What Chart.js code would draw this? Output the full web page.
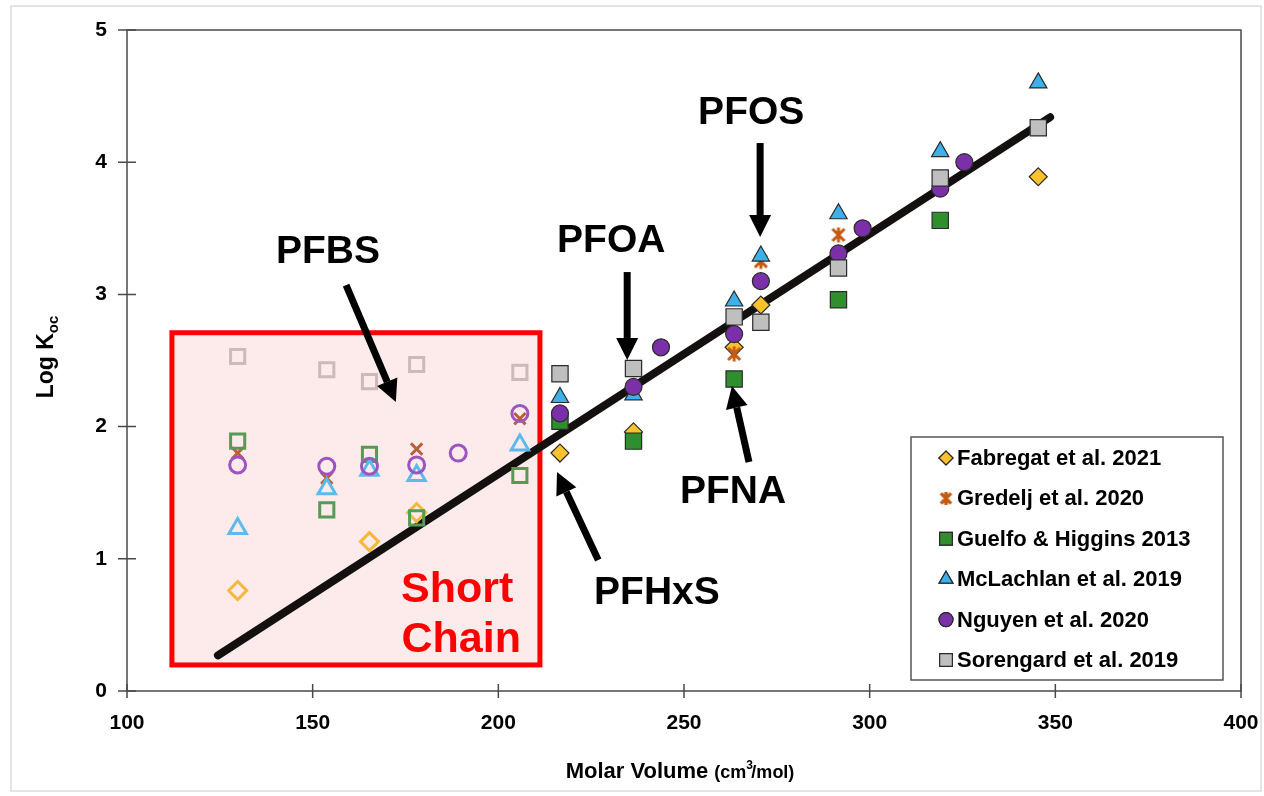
<!DOCTYPE html>
<html><head><meta charset="utf-8">
<script src="https://cdn.jsdelivr.net/npm/chart.js@4.4.1/dist/chart.umd.min.js"></script>
<style>html,body{margin:0;padding:0;background:#fff;overflow:hidden}canvas{display:block}</style>
</head><body>
<canvas id="c" width="1264" height="796"></canvas>
<script>
// ---- data (Molar volume cm3/mol, log Koc) ----
const fabregatX = [129.8, 165.3, 178.0, 216.6, 236.4, 263.5, 270.7, 345.4];
const fabregatY = [0.76, 1.13, 1.35, 1.80, 1.96, 2.60, 2.92, 3.89];
const gredeljX = [129.8, 153.8, 178.0, 205.8, 263.5, 270.7, 291.6];
const gredeljY = [1.80, 1.61, 1.83, 2.06, 2.55, 3.25, 3.45];
const guelfoX = [129.8, 153.8, 165.3, 178.0, 205.8, 216.6, 236.4, 263.5, 291.6, 319.0];
const guelfoY = [1.89, 1.37, 1.79, 1.31, 1.63, 2.04, 1.89, 2.36, 2.96, 3.56];
const mclachlanX = [129.8, 153.8, 165.3, 178.0, 205.8, 216.6, 236.4, 263.5, 270.7, 291.6, 319.0, 345.4];
const mclachlanY = [1.23, 1.53, 1.67, 1.63, 1.86, 2.22, 2.24, 2.95, 3.29, 3.61, 4.08, 4.60];
const nguyenX = [129.8, 153.8, 165.3, 178.0, 189.2, 205.8, 216.6, 236.4, 243.8, 263.5, 270.7, 291.6, 298.1, 319.0, 325.5];
const nguyenY = [1.71, 1.70, 1.70, 1.71, 1.80, 2.10, 2.10, 2.30, 2.60, 2.70, 3.10, 3.31, 3.50, 3.80, 4.00];
const sorengardX = [129.8, 153.8, 165.3, 178.0, 205.8, 216.6, 236.4, 263.5, 270.7, 291.6, 319.0, 345.4];
const sorengardY = [2.53, 2.43, 2.34, 2.47, 2.41, 2.40, 2.44, 2.83, 2.79, 3.20, 3.88, 4.26];
const trendX = [124.5, 348.6];
const trendY = [0.27, 4.34];
const xTicks = [100, 150, 200, 250, 300, 350, 400];
const yTicks = [0, 1, 2, 3, 4, 5];
const shortChainLimit = 212;
const shortBoxX = [112.1, 211.2];
const shortBoxY = [0.197, 2.71];
const seriesNames = ['Fabregat et al. 2021', 'Gredelj et al. 2020', 'Guelfo & Higgins 2013', 'McLachlan et al. 2019', 'Nguyen et al. 2020', 'Sorengard et al. 2019'];

const FONT = "'Liberation Sans', Arial, Helvetica, sans-serif";

function pts(xs, ys){ return xs.map((x,i)=>({x:x, y:ys[i]})); }

function asterisk(size, color, lw){
  const c = document.createElement('canvas');
  c.width = size; c.height = size;
  const g = c.getContext('2d');
  g.strokeStyle = color; g.lineWidth = lw; g.lineCap = 'butt';
  const m = size*0.2, M = size - m;
  g.beginPath();
  g.moveTo(m,m); g.lineTo(M,M);
  g.moveTo(M,m); g.lineTo(m,M);
  g.moveTo(size/2, size*0.12); g.lineTo(size/2, size*0.88);
  g.stroke();
  return c;
}
const astBig = asterisk(20, '#C55A11', 3);
const astLegend = asterisk(17, '#C55A11', 3.4);

const styles = [
  {fill:'#FFC12E', open:'#F5B83A', style:'rectRot', r:9, rOpen:9},
  {fill:'#C55A11', open:'#B8603A', style:'ast', r:10, rOpen:8},
  {fill:'#2F8F2F', open:'#569A56', style:'rect', r:11.5, rOpen:10},
  {fill:'#3DB0EA', open:'#5DBAEA', style:'triangle', r:10, rOpen:10},
  {fill:'#7B2FA8', open:'#9C55C0', style:'circle', r:8.5, rOpen:8},
  {fill:'#BFBFBF', open:'#CBBABA', style:'rect', r:11.5, rOpen:10}
];
const seriesData = [
  pts(fabregatX, fabregatY), pts(gredeljX, gredeljY), pts(guelfoX, guelfoY),
  pts(mclachlanX, mclachlanY), pts(nguyenX, nguyenY), pts(sorengardX, sorengardY)
];

const isShort = ctx => ctx.raw && ctx.raw.x < shortChainLimit;

const datasets = seriesData.map((d, i) => {
  const s = styles[i];
  return {
    label: seriesNames[i],
    data: d,
    order: 6 - i,
    showLine: false,
    pointStyle: ctx => s.style === 'ast' ? (isShort(ctx) ? 'crossRot' : astBig) : s.style,
    pointRadius: ctx => isShort(ctx) ? s.rOpen : s.r,
    pointBackgroundColor: ctx => isShort(ctx) ? 'rgba(0,0,0,0)' : s.fill,
    pointBorderColor: ctx => isShort(ctx) ? s.open : (s.style === 'ast' ? s.fill : '#2a2a2a'),
    pointBorderWidth: ctx => isShort(ctx) ? 3 : 1.2,
    backgroundColor: s.fill,
    borderColor: '#2a2a2a'
  };
});
datasets.push({
  label: 'trend',
  type: 'line',
  data: pts(trendX, trendY),
  order: 100,
  borderColor: '#141010',
  borderWidth: 8,
  borderCapStyle: 'round',
  pointRadius: 0,
  fill: false
});

function arrow(ctx, x1, y1, x2, y2){
  const ang = Math.atan2(y2-y1, x2-x1);
  const hl = 22, hw = 11;
  const bx = x2 - Math.cos(ang)*hl, by = y2 - Math.sin(ang)*hl;
  ctx.save();
  ctx.strokeStyle = '#000'; ctx.fillStyle = '#000'; ctx.lineWidth = 7;
  ctx.beginPath(); ctx.moveTo(x1,y1); ctx.lineTo(bx,by); ctx.stroke();
  ctx.beginPath();
  ctx.moveTo(x2,y2);
  ctx.lineTo(bx + Math.sin(ang)*hw, by - Math.cos(ang)*hw);
  ctx.lineTo(bx - Math.sin(ang)*hw, by + Math.cos(ang)*hw);
  ctx.closePath(); ctx.fill();
  ctx.restore();
}

const labels = [
  {t:'PFBS', x:154.1, y:3.32},
  {t:'PFOA', x:230.4, y:3.40},
  {t:'PFOS', x:268.1, y:4.37},
  {t:'PFNA', x:263.2, y:1.505},
  {t:'PFHxS', x:242.7, y:0.741}
];
const arrows = [
  [159.0, 3.071, 172.4, 2.186],
  [234.7, 3.169, 234.7, 2.504],
  [270.5, 4.145, 270.5, 3.434],
  [226.9, 0.991, 215.8, 1.657],
  [267.5, 1.732, 262.9, 2.307]
];

const decor = {
  id: 'decor',
  beforeDatasetsDraw(chart){
    const {ctx, scales:{x, y}} = chart;
    const l = x.getPixelForValue(shortBoxX[0]), r = x.getPixelForValue(shortBoxX[1]);
    const t = y.getPixelForValue(shortBoxY[1]), b = y.getPixelForValue(shortBoxY[0]);
    ctx.save();
    ctx.fillStyle = '#FDEBEB';
    ctx.fillRect(l, t, r-l, b-t);
    ctx.strokeStyle = '#FF0000'; ctx.lineWidth = 5;
    ctx.strokeRect(l, t, r-l, b-t);
    ctx.restore();
  },
  afterDatasetsDraw(chart){
    const {ctx, scales:{x, y}, chartArea:ca} = chart;
    ctx.save();
    ctx.strokeStyle = '#4a4a4a'; ctx.lineWidth = 1.5;
    ctx.strokeRect(ca.left, ca.top, ca.right-ca.left, ca.bottom-ca.top);
    ctx.beginPath();
    xTicks.forEach(v => { const p = x.getPixelForValue(v); ctx.moveTo(p, ca.bottom-7); ctx.lineTo(p, ca.bottom+7); });
    yTicks.forEach(v => { const p = y.getPixelForValue(v); ctx.moveTo(ca.left-9, p); ctx.lineTo(ca.left+9, p); });
    ctx.stroke();
    ctx.fillStyle = '#000'; ctx.textAlign = 'center'; ctx.textBaseline = 'middle';
    ctx.font = 'bold 39px ' + FONT;
    labels.forEach(o => ctx.fillText(o.t, x.getPixelForValue(o.x), y.getPixelForValue(o.y)));
    arrows.forEach(a => arrow(ctx, x.getPixelForValue(a[0]), y.getPixelForValue(a[1]), x.getPixelForValue(a[2]), y.getPixelForValue(a[3])));
    ctx.fillStyle = '#FF0000';
    ctx.font = 'bold 43px ' + FONT;
    ctx.fillText('Short', x.getPixelForValue(188.9), y.getPixelForValue(0.764));
    ctx.fillText('Chain', x.getPixelForValue(190.0), y.getPixelForValue(0.386));
    ctx.restore();
  },
  afterDraw(chart){
    const {ctx} = chart;
    ctx.save();
    const lx = 911, ly = 437, lw = 312, lh = 243;
    ctx.fillStyle = '#fff'; ctx.fillRect(lx, ly, lw, lh);
    ctx.strokeStyle = '#555'; ctx.lineWidth = 1.5; ctx.strokeRect(lx, ly, lw, lh);
    ctx.font = 'bold 22px ' + FONT; ctx.textAlign = 'left'; ctx.textBaseline = 'middle';
    seriesNames.forEach((n, i) => {
      const cy = 458 + i*40.4, cx = 946;
      const s = styles[i];
      ctx.fillStyle = s.fill; ctx.strokeStyle = '#2a2a2a'; ctx.lineWidth = 1.2;
      if (s.style === 'ast') {
        ctx.drawImage(astLegend, cx-8.5, cy-8.5);
      } else {
        const st = s.style;
        const rr = st === 'rect' ? 9 : (st === 'triangle' ? 8 : 7);
        Chart.helpers.drawPoint(ctx, {pointStyle: st, radius: rr, rotation: 0, borderWidth: 1.2}, cx, cy);
        ctx.fill(); ctx.stroke();
      }
      ctx.fillStyle = '#000';
      ctx.fillText(n, 957, cy + 1);
    });
    ctx.fillStyle = '#000';
    ctx.save();
    ctx.translate(45, 357);
    ctx.rotate(-Math.PI/2);
    ctx.font = 'bold 23px ' + FONT;
    const w1 = ctx.measureText('Log K').width;
    ctx.font = 'bold 15px ' + FONT;
    const w2 = ctx.measureText('oc').width;
    const sx = -(w1+w2)/2;
    ctx.textAlign = 'left'; ctx.textBaseline = 'alphabetic';
    ctx.font = 'bold 23px ' + FONT; ctx.fillText('Log K', sx, 8);
    ctx.font = 'bold 15px ' + FONT; ctx.fillText('oc', sx + w1, 13);
    ctx.restore();
    ctx.textAlign = 'left'; ctx.textBaseline = 'alphabetic';
    ctx.font = 'bold 22px ' + FONT;
    const a = 'Molar Volume ';
    const wa = ctx.measureText(a).width;
    ctx.font = 'bold 18px ' + FONT;
    const wb = ctx.measureText('(cm /mol)').width;
    const wc = ctx.measureText('(cm').width;
    const wsp = ctx.measureText('(cm ').width;
    const x0 = 680 - (wa + wb)/2;
    ctx.font = 'bold 22px ' + FONT; ctx.fillText(a, x0, 778);
    ctx.font = 'bold 18px ' + FONT; ctx.fillText('(cm', x0 + wa, 778);
    ctx.font = 'bold 12px ' + FONT; ctx.fillText('3', x0 + wa + wc, 769);
    ctx.font = 'bold 18px ' + FONT; ctx.fillText('/mol)', x0 + wa + wsp, 778);
    ctx.strokeStyle = '#dcdcdc'; ctx.lineWidth = 1.5;
    ctx.strokeRect(11, 6, 1250, 785);
    ctx.restore();
  }
};

new Chart(document.getElementById('c'), {
  type: 'scatter',
  data: { datasets },
  options: {
    responsive: false,
    animation: false,
    devicePixelRatio: 1,
    layout: { padding: { left: 0, top: 30, right: 23, bottom: 0 } },
    plugins: { legend: { display: false }, tooltip: { enabled: false } },
    scales: {
      x: {
        type: 'linear', min: 100, max: 400,
        afterFit: s => { s.height = 105; s.paddingLeft = 0; s.paddingRight = 0; },
        afterBuildTicks: s => { s.ticks = xTicks.map(v => ({value: v})); },
        grid: { display: false, drawTicks: false },
        border: { display: false },
        ticks: { padding: 20, color: '#000', font: { family: FONT, weight: 'bold', size: 21 }, maxRotation: 0 }
      },
      y: {
        type: 'linear', min: 0, max: 5,
        afterFit: s => { s.width = 127; s.paddingTop = 0; s.paddingBottom = 0; },
        afterBuildTicks: s => { s.ticks = yTicks.map(v => ({value: v})); },
        grid: { display: false, drawTicks: false },
        border: { display: false },
        ticks: { padding: 20, color: '#000', font: { family: FONT, weight: 'bold', size: 21 } }
      }
    }
  },
  plugins: [decor]
});
</script>
</body></html>
